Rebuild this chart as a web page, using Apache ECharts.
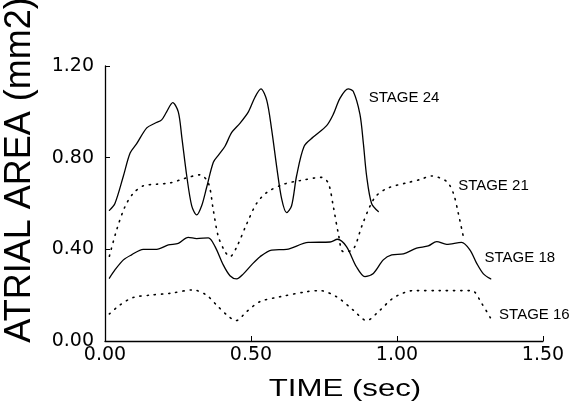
<!DOCTYPE html>
<html>
<head>
<meta charset="utf-8">
<script src="https://cdn.jsdelivr.net/npm/echarts@6/dist/echarts.min.js"></script>
<style>
  html, body { margin: 0; padding: 0; background: #fff; }
  #main { width: 572px; height: 411px; }
</style>
</head>
<body>
<div id="main"></div>
<script>
// time (sec), atrial area (mm2)
var stage24 = [[0.015,0.57],[0.034,0.60],[0.063,0.72],[0.086,0.82],[0.108,0.86],[0.143,0.93],[0.171,0.95],[0.194,0.965],[0.211,1.00],[0.232,1.04],[0.251,1.00],[0.263,0.89],[0.280,0.72],[0.297,0.59],[0.314,0.55],[0.331,0.59],[0.348,0.67],[0.371,0.78],[0.388,0.81],[0.411,0.85],[0.434,0.91],[0.462,0.95],[0.491,1.00],[0.514,1.065],[0.534,1.10],[0.554,1.05],[0.571,0.92],[0.588,0.76],[0.605,0.62],[0.622,0.56],[0.639,0.59],[0.656,0.72],[0.682,0.85],[0.713,0.89],[0.759,0.94],[0.782,0.99],[0.805,1.06],[0.833,1.10],[0.850,1.09],[0.873,0.99],[0.885,0.86],[0.896,0.72],[0.913,0.60],[0.936,0.565]];
var stage21 = [[0.015,0.37],[0.040,0.485],[0.068,0.585],[0.097,0.645],[0.131,0.677],[0.177,0.684],[0.223,0.69],[0.274,0.71],[0.325,0.725],[0.354,0.69],[0.371,0.57],[0.388,0.456],[0.411,0.39],[0.428,0.368],[0.451,0.41],[0.485,0.51],[0.519,0.60],[0.554,0.648],[0.611,0.684],[0.668,0.70],[0.742,0.714],[0.765,0.688],[0.782,0.586],[0.799,0.47],[0.816,0.39],[0.850,0.40],[0.879,0.50],[0.908,0.59],[0.930,0.635],[0.970,0.668],[1.033,0.69],[1.080,0.705],[1.119,0.72],[1.170,0.696],[1.193,0.645],[1.210,0.557],[1.227,0.456]];
var stage18 = [[0.015,0.274],[0.034,0.31],[0.063,0.354],[0.091,0.376],[0.131,0.40],[0.177,0.40],[0.217,0.419],[0.251,0.426],[0.285,0.452],[0.314,0.447],[0.354,0.45],[0.377,0.412],[0.405,0.332],[0.428,0.285],[0.451,0.271],[0.474,0.293],[0.502,0.332],[0.531,0.368],[0.571,0.397],[0.622,0.40],[0.696,0.43],[0.771,0.432],[0.796,0.444],[0.827,0.412],[0.861,0.324],[0.890,0.281],[0.919,0.295],[0.953,0.354],[0.982,0.376],[1.022,0.38],[1.067,0.405],[1.107,0.415],[1.136,0.434],[1.170,0.422],[1.221,0.43],[1.25,0.397],[1.273,0.339],[1.296,0.293],[1.321,0.271]];
var stage16 = [[0.015,0.118],[0.051,0.157],[0.097,0.19],[0.154,0.20],[0.223,0.208],[0.302,0.223],[0.348,0.20],[0.382,0.157],[0.417,0.114],[0.449,0.089],[0.485,0.128],[0.531,0.172],[0.599,0.193],[0.69,0.215],[0.736,0.22],[0.793,0.193],[0.85,0.135],[0.896,0.089],[0.942,0.135],[0.99,0.19],[1.056,0.22],[1.147,0.22],[1.256,0.22],[1.29,0.164],[1.324,0.092]];

var seriesNames = ['STAGE 24', 'STAGE 21', 'STAGE 18', 'STAGE 16'];
// which point each stage label hangs off, and its nudge
var labelAt = [37, 33, 35, 24];
var labelOffset = [[20, 9], [11, 4], [14, 8], [7, -5]];

var myChart = echarts.init(document.getElementById('main'));

function makeSeries(idx, pts, dotted) {
    var data = [];
    for (var i = 0; i < pts.length; i++) {
        if (i === labelAt[idx]) {
            data.push({
                value: pts[i],
                label: {
                    show: true,
                    position: 'right',
                    distance: 0,
                    offset: labelOffset[idx],
                    formatter: seriesNames[idx],
                    color: '#000',
                    fontFamily: 'Liberation Sans, Arial, sans-serif',
                    fontSize: 15
                }
            });
        } else {
            data.push(pts[i]);
        }
    }
    return {
        name: seriesNames[idx],
        type: 'line',
        data: data,
        smooth: 0.3,
        symbol: 'circle',
        symbolSize: 1,
        showSymbol: true,
        itemStyle: { color: 'rgba(0,0,0,0)' },
        silent: true,
        lineStyle: {
            color: '#000',
            width: dotted ? 1.6 : 1.3,
            type: dotted ? [1.2, 6] : 'solid',
            cap: 'round'
        }
    };
}

var tickFont = {
    color: '#000',
    fontFamily: 'DejaVu Sans, sans-serif',
    fontSize: 19
};

var option = {
    backgroundColor: '#fff',
    animation: false,
    grid: { left: 105, right: 29, top: 66, bottom: 70 },
    xAxis: {
        type: 'value',
        min: 0,
        max: 1.5,
        interval: 0.5,
        axisLine: { show: true, lineStyle: { color: '#000', width: 1.3 } },
        axisTick: { show: true, inside: true, length: 5, lineStyle: { color: '#000' } },
        splitLine: { show: false },
        axisLabel: echarts.util.merge({
            margin: 5,
            formatter: function (v) { return v.toFixed(2); }
        }, tickFont)
    },
    yAxis: {
        type: 'value',
        min: 0,
        max: 1.2,
        interval: 0.4,
        axisLine: { show: true, lineStyle: { color: '#000', width: 1.3 } },
        axisTick: { show: true, inside: true, length: 5, lineStyle: { color: '#000' } },
        splitLine: { show: false },
        axisLabel: echarts.util.merge({
            margin: 11,
            formatter: function (v) { return v.toFixed(2); }
        }, tickFont)
    },
    graphic: [
        {
            type: 'text',
            x: 345,
            y: 389,
            scaleX: 1.3,
            style: {
                text: 'TIME (sec)',
                fill: '#000',
                font: '24px "Liberation Sans", Arial, sans-serif',
                align: 'center',
                verticalAlign: 'middle'
            }
        },
        {
            type: 'text',
            x: 20,
            y: 170,
            rotation: Math.PI / 2,
            style: {
                text: 'ATRIAL AREA (mm2)',
                fill: '#000',
                font: '36px "Liberation Sans", Arial, sans-serif',
                align: 'center',
                verticalAlign: 'middle'
            }
        }
    ],
    series: [
        makeSeries(0, stage24, false),
        makeSeries(1, stage21, true),
        makeSeries(2, stage18, false),
        makeSeries(3, stage16, true)
    ]
};

myChart.setOption(option);
</script>
</body>
</html>
